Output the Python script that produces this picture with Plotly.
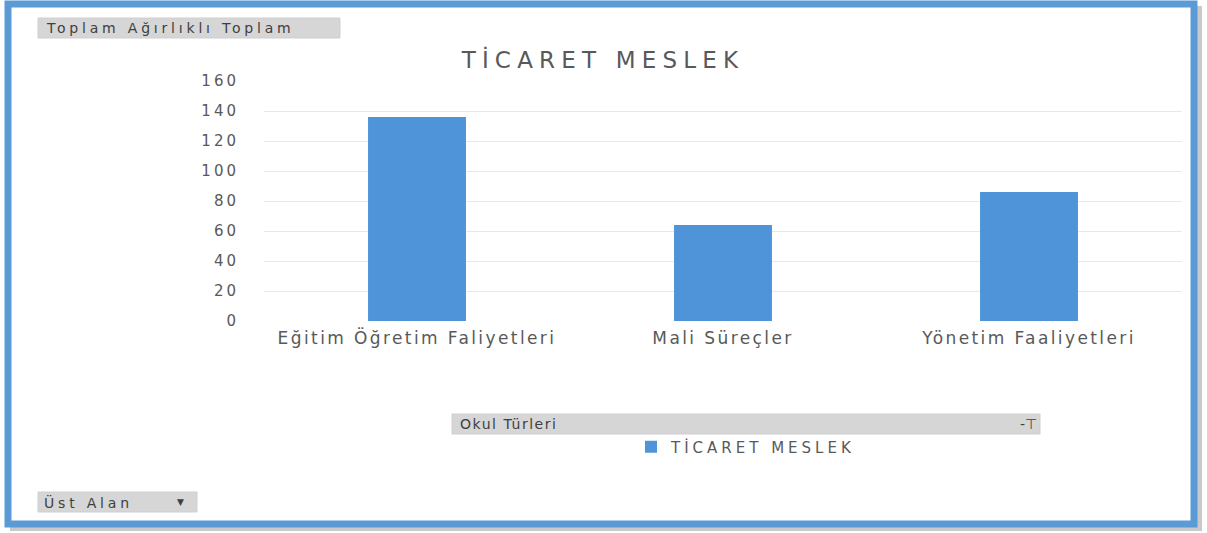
import plotly.graph_objects as go

categories = ["Eğitim Öğretim Faliyetleri", "Mali Süreçler", "Yönetim Faaliyetleri"]
values = [136, 64, 86]
series_name = "TİCARET MESLEK"
chart_title = "TİCARET MESLEK"
y_ticks = [0, 20, 40, 60, 80, 100, 120, 140, 160]

W, H = 1207, 533
L, R, T, B = 264, 1182, 81, 321


def xp(px):
    return (px - L) / (R - L)


def yp(py):
    return (B - py) / (B - T)


def spaced(s, ls):
    return f'<span style="letter-spacing:{ls}px">{s}</span>'


text_color = "#595959"
font_family = "DejaVu Sans"

fig = go.Figure()
fig.add_trace(go.Bar(
    x=categories, y=values, name=spaced(series_name, 4),
    marker=dict(color="#4F93D8", line=dict(width=0)),
    width=0.32, showlegend=True,
))

shapes = []
# shadow of frame
shapes.append(dict(type="rect", xref="paper", yref="paper",
                   x0=xp(10), x1=xp(1202), y0=yp(531), y1=yp(6),
                   fillcolor="rgba(120,120,120,0.4)", line=dict(width=0), layer="below"))
# frame
shapes.append(dict(type="rect", xref="paper", yref="paper",
                   x0=xp(8), x1=xp(1194), y0=yp(524), y1=yp(4),
                   fillcolor="white", line=dict(color="#5B9BD5", width=7), layer="below"))


def button(x0, x1, y0, y1):
    shapes.append(dict(type="rect", xref="paper", yref="paper",
                       x0=xp(x0), x1=xp(x1), y0=yp(y1), y1=yp(y0),
                       fillcolor="#D6D6D6", line=dict(color="#CFCFCF", width=1), layer="below"))


button(38, 340, 18, 38)
button(452, 1040, 414, 434)
button(38, 197, 492, 512)

annotations = [
    dict(text=spaced("Toplam Ağırlıklı Toplam", 3.8), x=xp(44), y=yp(28), xref="paper", yref="paper",
         xanchor="left", yanchor="middle", showarrow=False,
         font=dict(family=font_family, size=14, color="#404040")),
    dict(text=spaced("Okul Türleri", 1.5), x=xp(458), y=yp(424), xref="paper", yref="paper",
         xanchor="left", yanchor="middle", showarrow=False,
         font=dict(family=font_family, size=14, color="#404040")),
    dict(text="-⊤", x=xp(1028), y=yp(424), xref="paper", yref="paper",
         xanchor="center", yanchor="middle", showarrow=False,
         font=dict(family=font_family, size=14, color="#404040")),
    dict(text=spaced("Üst Alan", 3.8), x=xp(42), y=yp(502), xref="paper", yref="paper",
         xanchor="left", yanchor="middle", showarrow=False,
         font=dict(family=font_family, size=14, color="#404040")),
    dict(text="▼", x=xp(180), y=yp(502), xref="paper", yref="paper",
         xanchor="center", yanchor="middle", showarrow=False,
         font=dict(family=font_family, size=9, color="#404040")),
]

fig.update_layout(
    width=W, height=H,
    margin=dict(l=L, r=W - R, t=T, b=H - B, pad=0),
    paper_bgcolor="rgba(0,0,0,0)", plot_bgcolor="rgba(0,0,0,0)",
    title=dict(text=spaced(chart_title, 6.2), x=xp(603), xanchor="center", xref="paper",
               y=1 - 60 / H, yanchor="middle",
               font=dict(family=font_family, size=23, color=text_color)),
    font=dict(family=font_family, color=text_color),
    shapes=shapes,
    annotations=annotations,
    showlegend=True,
    legend=dict(x=xp(631), y=yp(447), xanchor="left", yanchor="middle",
                orientation="h", bgcolor="rgba(0,0,0,0)",
                font=dict(family=font_family, size=15, color=text_color)),
)
fig.update_yaxes(range=[0, 160], tickvals=y_ticks,
                 ticktext=[spaced(str(v), 3) for v in y_ticks],
                 showgrid=True, gridcolor="#E8E8E8",
                 gridwidth=1, zeroline=False, showline=False, ticks="", ticklabelstandoff=24,
                 tickfont=dict(family=font_family, size=15, color=text_color))
fig.update_xaxes(tickvals=categories, ticktext=[spaced(c, 2.4) for c in categories],
                 showgrid=False, showline=False, ticks="", ticklabelstandoff=5,
                 tickfont=dict(family=font_family, size=17, color=text_color))

fig.write_html("out.html", config={"displayModeBar": False},
               post_script="document.body.style.margin='0px';")
